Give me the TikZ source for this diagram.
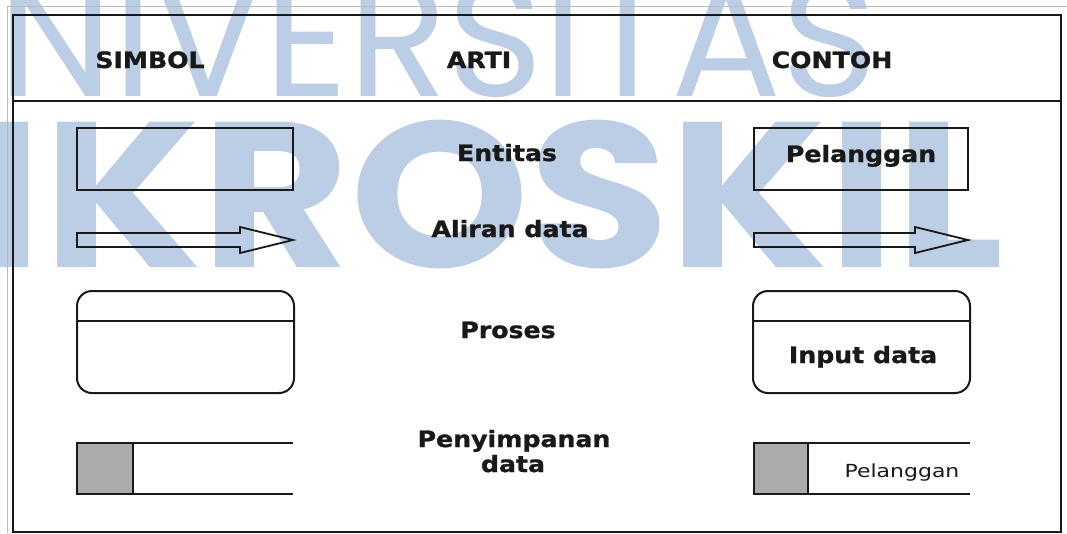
\documentclass[tikz,border=0pt]{standalone}
\usepackage{fontspec}
\newfontfamily\labfont{DejaVu Sans Bold}[FakeStretch=1.12, FakeBold=1.2]
\newfontfamily\regfont{DejaVu Sans}[FakeStretch=1.22]
\newfontfamily\wmthinfont{Poppins}[FakeStretch=0.99]
\newfontfamily\wmboldfont{Poppins}[FakeStretch=1.1]
\definecolor{wmblue}{RGB}{187,206,229}
\definecolor{ink}{RGB}{25,25,25}
\definecolor{storegray}{RGB}{171,171,171}
\begin{document}
\begin{tikzpicture}[x=1pt,y=-1pt,
  wm/.style={inner sep=0pt, text=wmblue},
  frame/.style={line width=2.6pt, draw=ink},
  shp/.style={line width=2pt, draw=ink},
  lab/.style={inner sep=0pt, anchor=base, text=ink, font=\labfont\fontsize{22.5}{27}\selectfont},
  reglab/.style={inner sep=0pt, anchor=base, text=ink, font=\regfont\fontsize{18}{22}\selectfont}
]
\useasboundingbox (0,0) rectangle (1067,533);
\fill[white] (0,0) rectangle (1067,533);
\begin{scope}
\clip (0,0) rectangle (1067,533);
% watermark
\node[wm, anchor=base east] (wmtop) at (878,96) {\wmthinfont\fontsize{165}{165}\selectfont UNIVERSITAS};
\node[wm, anchor=base east] (wmbot) at (1004,267) {\wmboldfont\bfseries\fontsize{207}{207}\selectfont MIKROSKIL};
\end{scope}
% thin outer lines
\draw[gray!55, line width=0.8pt] (7,533) -- (7,6) -- (1067,6);
% frame
\draw[frame] (13,15) rectangle (1061,532);
\draw[frame] (13,101) -- (1061,101);
% headers
\node[lab] (hsimbol) at (150,68) {SIMBOL};
\node[lab] (harti) at (479,68) {ARTI};
\node[lab] (hcontoh) at (832,68) {CONTOH};
% entity
\draw[shp] (77,128) rectangle (293,190);
\node[lab] (tentitas) at (507,161) {Entitas};
\draw[shp] (754,128) rectangle (968,190);
\node[lab] (tpel) at (861,162) {Pelanggan};
% data flow
\draw[shp, line width=1.8pt] (77,233) -- (240,233) -- (240,227) -- (293,240) -- (240,253) -- (240,247) -- (77,247) -- cycle;
\node[lab] (taliran) at (510,237) {Aliran data};
\draw[shp, line width=1.8pt] (754,233) -- (915,233) -- (915,227) -- (968,240) -- (915,253) -- (915,247) -- (754,247) -- cycle;
% process
\draw[shp, rounded corners=15pt] (77,291) rectangle (294,393);
\draw[shp] (77,321) -- (294,321);
\node[lab] (tproses) at (508,338) {Proses};
\draw[shp, rounded corners=15pt] (753,291) rectangle (970,393);
\draw[shp] (753,321) -- (970,321);
\node[lab] (tinput) at (863,363) {Input data};
% data store
\filldraw[shp, fill=storegray] (77,443) rectangle (133,494);
\draw[shp] (133,443) -- (293,443) (133,494) -- (293,494);
\node[lab] (tpeny1) at (514,447) {Penyimpanan};
\node[lab] (tpeny2) at (513,472) {data};
\filldraw[shp, fill=storegray] (754,443) rectangle (808,494);
\draw[shp] (808,443) -- (970,443) (808,494) -- (970,494);
\node[reglab] (tpel2) at (902,477) {Pelanggan};
\end{tikzpicture}
\end{document}
